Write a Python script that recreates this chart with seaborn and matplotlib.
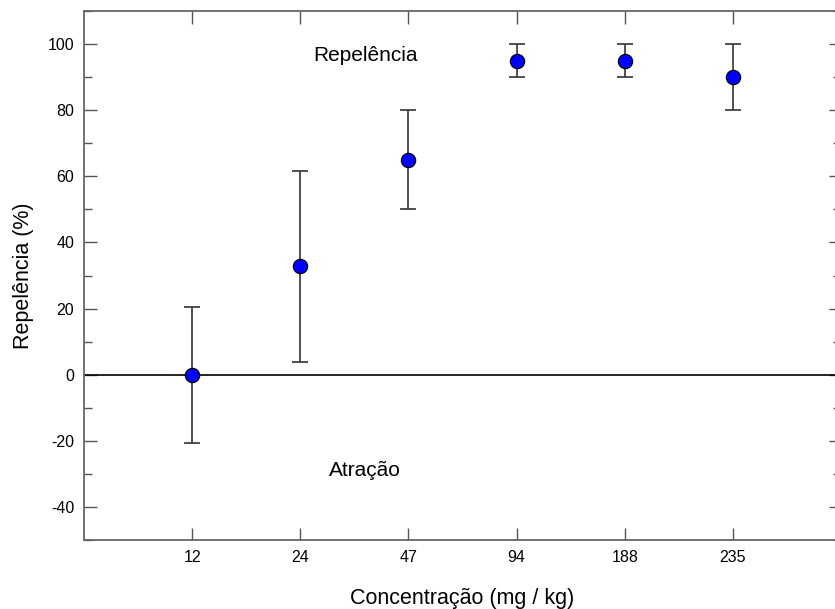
import matplotlib
matplotlib.use("Agg")
import matplotlib.pyplot as plt
import seaborn as sns
import numpy as np
import pandas as pd
from matplotlib.ticker import MultipleLocator

categories = ["12", "24", "47", "94", "188", "235"]
repelencia = [0, 32.8, 65, 95, 95, 90]
err_low = [20.6, 28.9, 15, 5, 5, 10]
err_high = [20.6, 28.7, 15, 5, 5, 10]

sns.set_theme(style="white")
plt.rcParams['font.family'] = ['Liberation Sans', 'DejaVu Sans']
plt.rcParams['axes.unicode_minus'] = False

df = pd.DataFrame({"pos": np.arange(1, len(categories) + 1),
                   "conc": categories, "rep": repelencia})

fig = plt.figure(figsize=(8.35, 6.09), dpi=100)
ax = fig.add_axes([84 / 835, 1 - 540 / 609, (841 - 84) / 835, (540 - 11) / 609])

ax.axhline(0, color="black", lw=1.2, zorder=1)
ax.errorbar(df["pos"], df["rep"], yerr=[err_low, err_high], fmt="none",
            ecolor="#333333", elinewidth=1.2, capsize=6, capthick=1.2, zorder=2)
sns.scatterplot(data=df, x="pos", y="rep", ax=ax, s=105, color="#0000ff",
                edgecolor="black", linewidth=0.9, zorder=3, legend=False)

ax.set_xlim(0, 7)
ax.set_ylim(-50, 110)
ax.set_xticks(df["pos"])
ax.set_xticklabels(categories)
ax.yaxis.set_major_locator(MultipleLocator(20))
ax.yaxis.set_minor_locator(MultipleLocator(10))
ax.set_yticks([-40, -20, 0, 20, 40, 60, 80, 100])

ax.tick_params(axis="both", which="major", direction="in", length=9, width=1,
               color="#555555", labelsize=11.5, labelcolor="black",
               top=True, right=True, left=True, bottom=True, pad=7)
ax.tick_params(axis="y", which="minor", direction="in", length=6, width=1,
               color="#555555", left=True, right=True)
for sp in ax.spines.values():
    sp.set_color("#666666")
    sp.set_linewidth(1.3)

ax.set_xlabel("Concentração (mg / kg)", fontsize=15.5, labelpad=17, color="black")
ax.set_ylabel("Repelência (%)", fontsize=15.5, labelpad=10, color="black")

ax.text(2.6, 96.5, "Repelência", fontsize=15, ha="center", va="center", color="black")
ax.text(2.6, -29, "Atração", fontsize=15, ha="center", va="center", color="black")

fig.savefig("out.png", dpi=100)
